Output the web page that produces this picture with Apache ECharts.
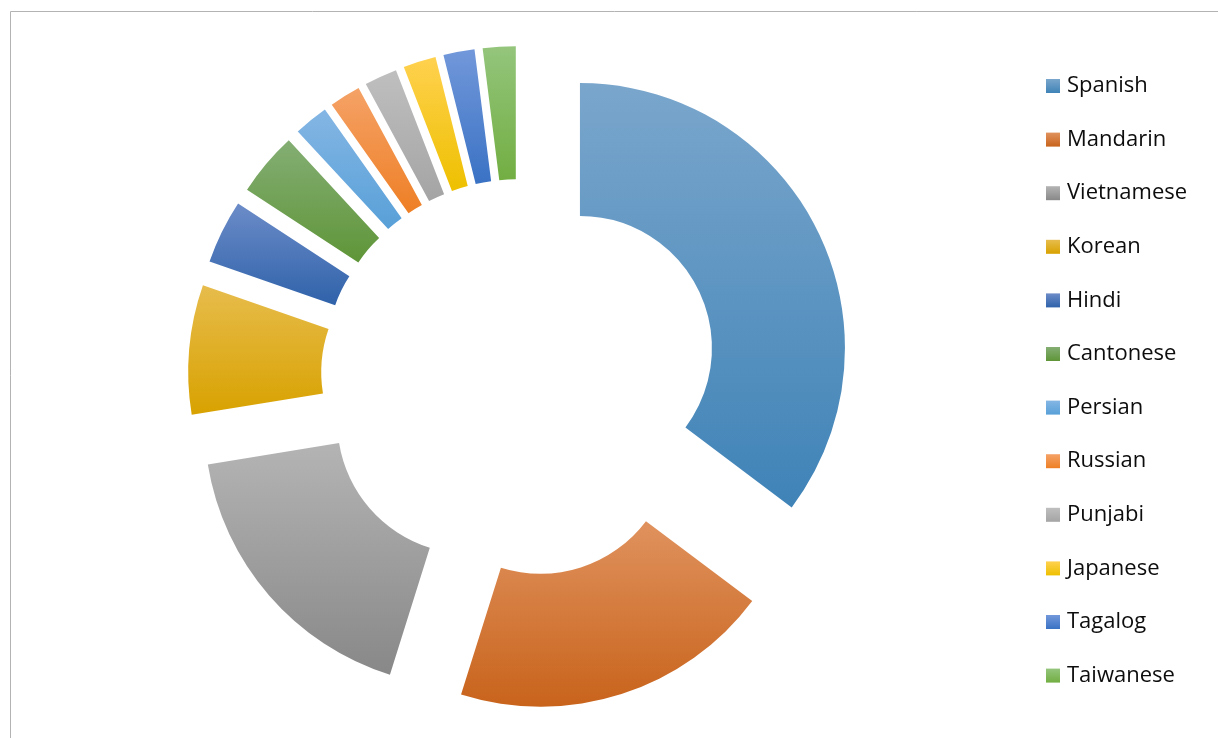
<!DOCTYPE html>
<html>
<head>
<meta charset="utf-8">
<script src="https://cdn.jsdelivr.net/npm/echarts@6/dist/echarts.min.js"></script>
<style>
  html, body { margin: 0; padding: 0; background: #ffffff; }
  #chart { width: 1218px; height: 738px; }
</style>
</head>
<body>
<div id="chart"></div>
<script>
// Languages spoken, share of total (percent)
const languages = ['Spanish', 'Mandarin', 'Vietnamese', 'Korean', 'Hindi', 'Cantonese',
                   'Persian', 'Russian', 'Punjabi', 'Japanese', 'Tagalog', 'Taiwanese'];
const shares = [35.3, 19.6, 17.6, 7.9, 3.9, 3.9, 2.1, 1.9, 2.0, 2.0, 1.9, 2.0];

// Light (top) and dark (bottom) gradient stops per slice
const topColors = ['#7aa6cc', '#e0925e', '#b4b4b4', '#e7bc4c', '#6c8cc8', '#84ae74',
                   '#84b6e4', '#f5a267', '#bfbfbf', '#ffd14f', '#7298da', '#94c57c'];
const bottomColors = ['#3f83b7', '#c8631b', '#888888', '#d8a200', '#2f62aa', '#5f9538',
                      '#58a0d8', '#ee7f25', '#a4a4a4', '#eec000', '#3a72c4', '#72ae42'];

function grad(i) {
  return new echarts.graphic.LinearGradient(0, 0, 0, 1, [
    { offset: 0, color: topColors[i] },
    { offset: 1, color: bottomColors[i] }
  ]);
}

const chart = echarts.init(document.getElementById('chart'), null, { renderer: 'canvas' });

const pieData = languages.map((name, i) => ({
  name: name,
  value: shares[i],
  selected: true,
  itemStyle: { color: grad(i) },
  select: { itemStyle: { color: grad(i), borderWidth: 0 } }
}));

chart.setOption({
  animation: false,
  backgroundColor: '#ffffff',
  graphic: [{
    type: 'rect',
    shape: { x: 10.5, y: 11.5, width: 1400, height: 900 },
    style: { fill: 'none', stroke: '#b3b3b3', lineWidth: 1 },
    silent: true
  }],
  legend: {
    orient: 'vertical',
    left: 1041,
    top: 70,
    padding: 5,
    icon: 'rect',
    itemWidth: 14,
    itemHeight: 14,
    itemGap: 31.6,
    selectedMode: false,
    data: languages,
    textStyle: {
      fontFamily: 'Open Sans',
      fontSize: 22,
      lineHeight: 22,
      color: '#0d0d0d',
      padding: [0, 0, 0, 2]
    }
  },
  series: [{
    type: 'pie',
    center: [520, 378],
    radius: [132, 265],
    startAngle: 90,
    clockwise: true,
    selectedMode: 'multiple',
    selectedOffset: 67,
    label: { show: false },
    labelLine: { show: false },
    emphasis: { disabled: true },
    itemStyle: { borderWidth: 0 },
    data: pieData
  }]
});
</script>
</body>
</html>
